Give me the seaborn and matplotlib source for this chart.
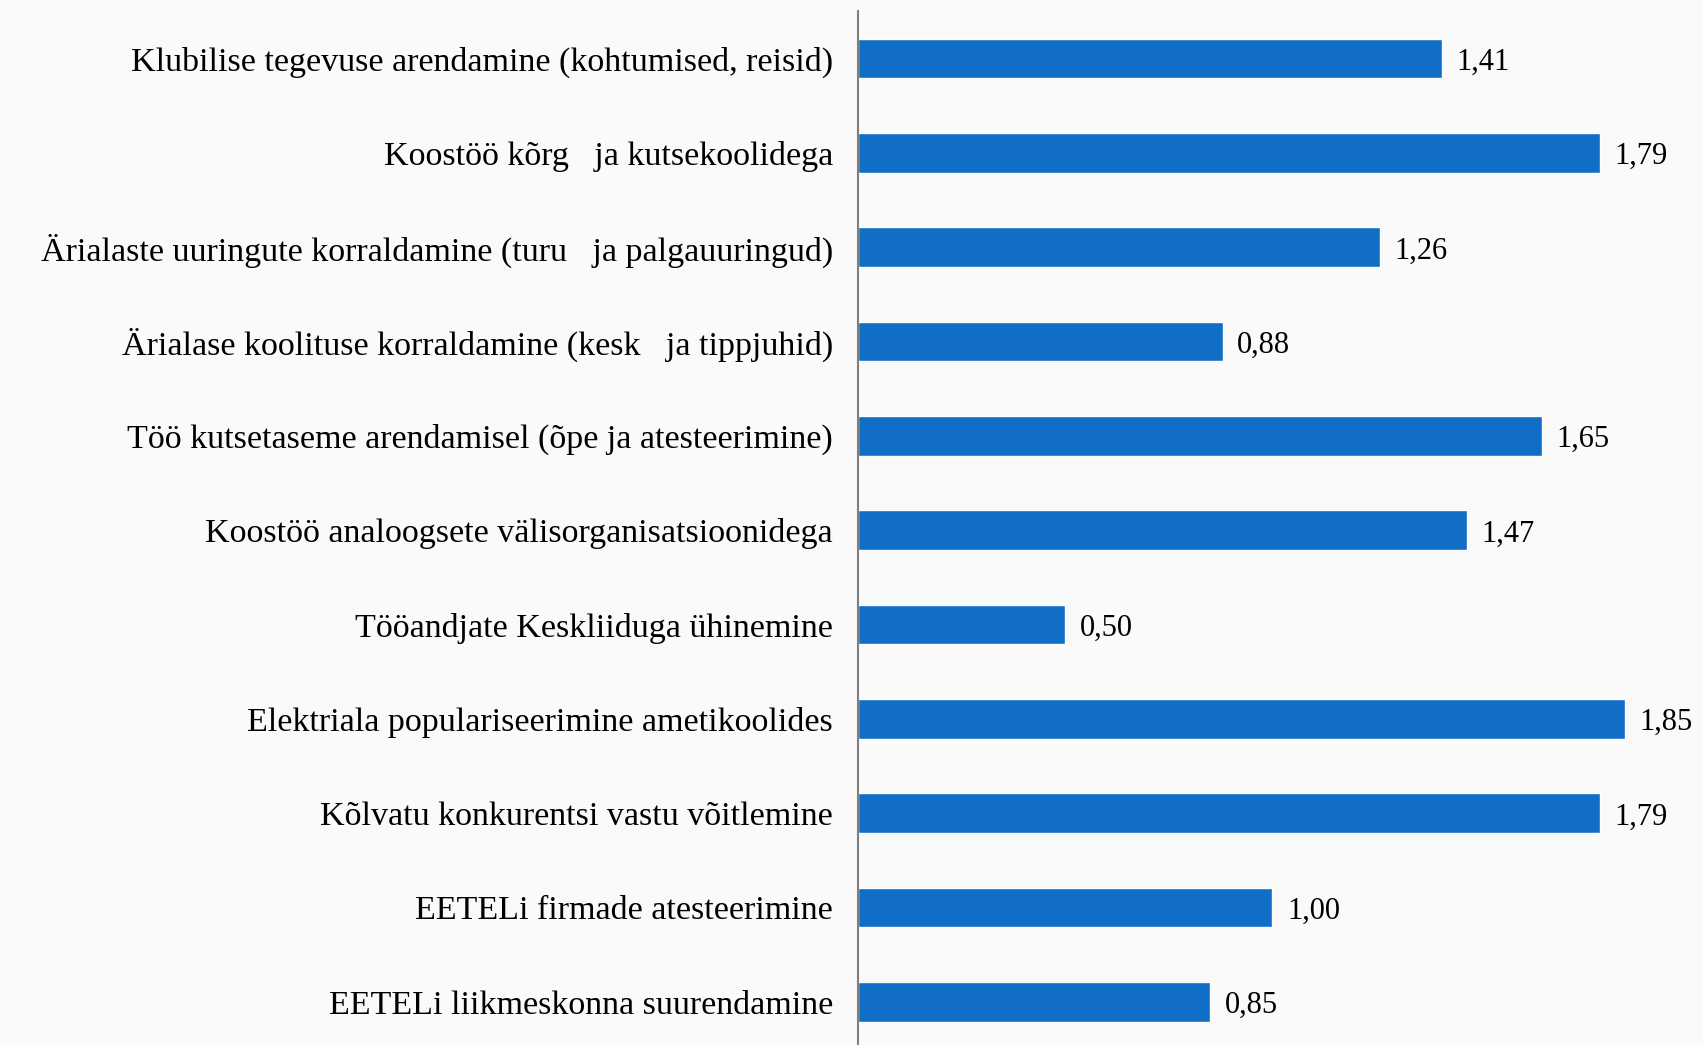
import pandas as pd
import matplotlib
matplotlib.use("Agg")
import matplotlib.pyplot as plt
import seaborn as sns

# Data
categories = [
    "Klubilise tegevuse arendamine (kohtumised, reisid)",
    "Koostöö kõrg   ja kutsekoolidega",
    "Ärialaste uuringute korraldamine (turu   ja palgauuringud)",
    "Ärialase koolituse korraldamine (kesk   ja tippjuhid)",
    "Töö kutsetaseme arendamisel (õpe ja atesteerimine)",
    "Koostöö analoogsete välisorganisatsioonidega",
    "Tööandjate Keskliiduga ühinemine",
    "Elektriala populariseerimine ametikoolides",
    "Kõlvatu konkurentsi vastu võitlemine",
    "EETELi firmade atesteerimine",
    "EETELi liikmeskonna suurendamine",
]
scores = [1.41, 1.79, 1.26, 0.88, 1.65, 1.47, 0.50, 1.85, 1.79, 1.00, 0.85]

df = pd.DataFrame({"Tegevus": categories, "Hinne": scores})

sns.set_theme(style="white")
plt.rcParams["font.family"] = ["Liberation Serif", "DejaVu Serif"]

fig = plt.figure(figsize=(17.03, 10.45), dpi=100)
fig.patch.set_facecolor("#FAFAFA")
ax = fig.add_axes([0.5038, -0.004, 0.4962, 0.9933])
ax.set_facecolor("#FAFAFA")

sns.barplot(
    data=df,
    y="Tegevus",
    x="Hinne",
    orient="h",
    color="#106EC6",
    saturation=1,
    width=0.42,
    ax=ax,
)

ax.set_xlim(0, 2.039)
ax.set_ylim(len(categories) - 0.5, -0.5)

# value labels with decimal comma
for i, v in enumerate(scores):
    ax.text(v + 0.035, i + 0.04, f"{v:.2f}".replace(".", ","),
            va="center", ha="left", fontsize=22, color="black")

ax.set_xlabel("")
ax.set_ylabel("")
ax.set_xticks([])
ax.tick_params(axis="y", length=0, pad=30 - 12, labelsize=24.5, labelcolor="black")

for side in ["top", "right", "bottom"]:
    ax.spines[side].set_visible(False)
ax.spines["left"].set_color("#7F7F7F")
ax.spines["left"].set_linewidth(1.5)

fig.savefig("out.png", dpi=100, facecolor=fig.get_facecolor())
